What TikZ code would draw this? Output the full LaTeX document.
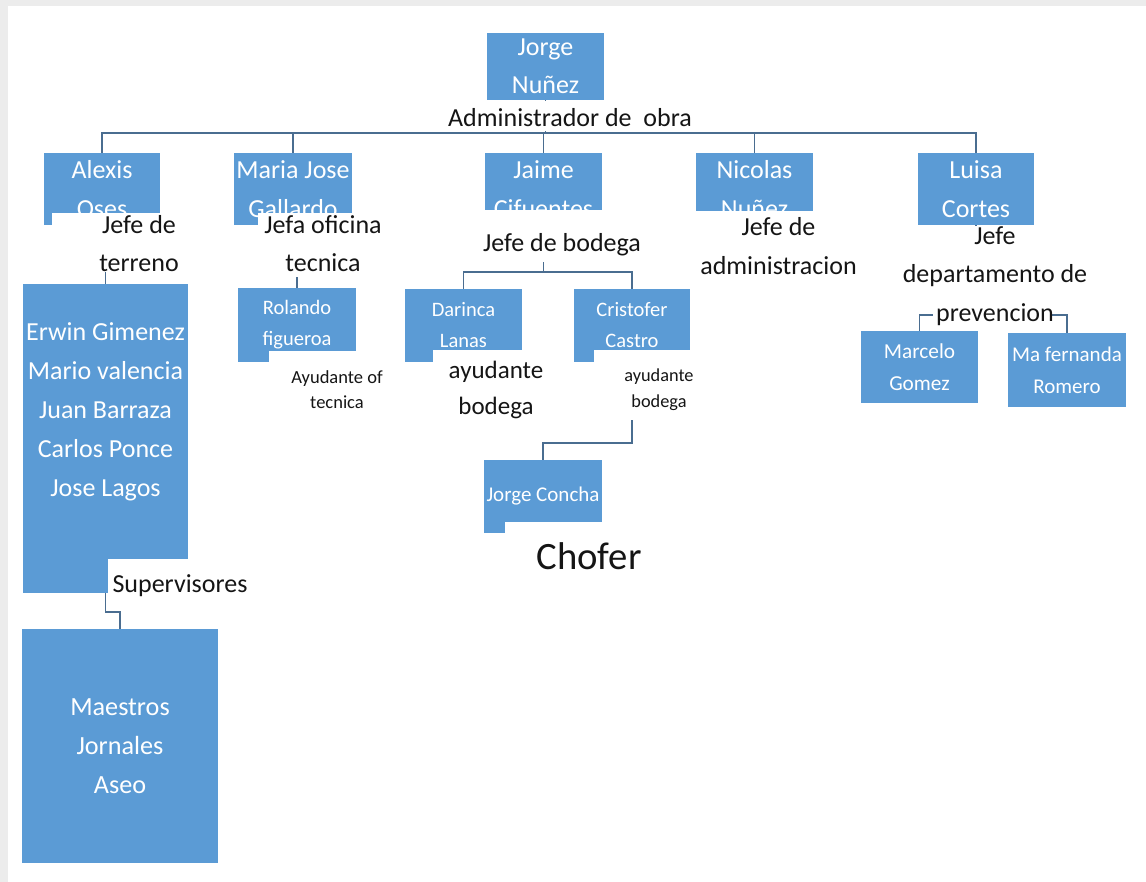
\documentclass[tikz,border=0pt]{standalone}
\usepackage{fontspec}
\setmainfont{Carlito}
\definecolor{boxblue}{HTML}{5B9BD5}
\definecolor{linec}{HTML}{4A6D90}
\definecolor{framegray}{HTML}{ECECEC}
\definecolor{ink}{HTML}{151515}
\pgfdeclarelayer{bg}
\pgfsetlayers{bg,main}
\begin{document}
\begin{tikzpicture}[x=1pt,y=-1pt,
  box/.style={rectangle, fill=boxblue, text=white, inner sep=0pt, align=center},
  conn/.style={draw=linec, line width=1.6pt},
  cover/.style={fill=white},
  lbl/.style={text=ink, inner sep=0pt, align=center},
  fbig/.style={font=\fontsize{26}{38.5}\selectfont},
  fmid/.style={font=\fontsize{20.5}{31}\selectfont},
  fsml/.style={font=\fontsize{18.5}{25.5}\selectfont}
]
\useasboundingbox (0,0) rectangle (1146,882);
% boxes
\node[box,fbig,minimum width=117pt,minimum height=67pt] (jorge) at (545.5,66.5) {Jorge\\Nuñez};
\node[box,fbig,minimum width=116pt,minimum height=72pt] (alexis) at (102,189) {Alexis\\Oses};
\node[box,fbig,minimum width=118pt,minimum height=72pt] (maria) at (293,189) {Maria Jose\\Gallardo};
\node[box,fbig,minimum width=117pt,minimum height=72pt] (jaime) at (543.5,189) {Jaime\\Cifuentes};
\node[box,fbig,minimum width=117pt,minimum height=72pt] (nicolas) at (754.5,189) {Nicolas\\Nuñez};
\node[box,fbig,minimum width=116pt,minimum height=72pt] (luisa) at (976,189) {Luisa\\Cortes};
\node[box,minimum width=165pt,minimum height=309pt] (erwin) at (105.5,438.5) {};
\node[box,fbig,font=\fontsize{26}{39}\selectfont] (erwintext) at (105.5,411.5) {Erwin Gimenez\\Mario valencia\\Juan Barraza\\Carlos Ponce\\Jose Lagos};
\node[box,fbig,font=\fontsize{26.2}{39}\selectfont,minimum width=196pt,minimum height=234pt] (maestros) at (120,746) {Maestros\\Jornales\\Aseo};
\node[box,fmid,minimum width=118pt,minimum height=74pt] (rolando) at (297,325) {Rolando\\figueroa};
\node[box,fmid,minimum width=117pt,minimum height=73pt] (darinca) at (463.5,325.5) {Darinca\\Lanas};
\node[box,fmid,minimum width=116pt,minimum height=73pt] (cristofer) at (632,325.5) {Cristofer\\Castro};
\node[box,fmid,font=\fontsize{21.3}{32}\selectfont,minimum width=117pt,minimum height=72pt] (marcelo) at (919.5,367) {Marcelo\\Gomez};
\node[box,fmid,font=\fontsize{21}{32}\selectfont,minimum width=118pt,minimum height=74pt] (mafer) at (1067,370) {Ma fernanda\\Romero};
\node[box,fmid,font=\fontsize{21}{32}\selectfont,minimum width=118pt,minimum height=73pt] (concha) at (543,496.5) {Jorge Concha};
% background frame and connectors
\begin{pgfonlayer}{bg}
  \fill[framegray] (0,0) rectangle (1146,882);
  \fill[white] (8,6) rectangle (1146,882);
  \foreach \n in {alexis,maria,jaime,nicolas,luisa}
    \draw[conn] (jorge.south) -- ++(0,33) -| (\n.north);
  \draw[conn] (alexis.south -| erwin.north) -- (erwin.north);
  \draw[conn] (erwin.south) -- ++(0,19) -| (maestros.north);
  \draw[conn] (maria.south -| rolando.north) -- (rolando.north);
  \foreach \n in {darinca,cristofer}
    \draw[conn] (jaime.south) -- ++(0,47) -| (\n.north);
  \draw[conn] (cristofer.south) -- ++(0,81) -| (concha.north);
  \foreach \n in {marcelo,mafer}
    \draw[conn] (luisa.south) -- ++(0,90) -| (\n.north);
\end{pgfonlayer}
% white label covers
\fill[cover] (440,101) rectangle (700,131);
\fill[cover] (52,213) rectangle (226,272);
\fill[cover] (258,213) rectangle (390,277);
\fill[cover] (470,210) rectangle (654,262);
\fill[cover] (690,211) rectangle (865,285);
\fill[cover] (895,226) rectangle (1092,302);
\fill[cover] (933,302) rectangle (1050,326);
\fill[cover] (108,559) rectangle (250,605);
\fill[cover] (269,351) rectangle (400,415);
\fill[cover] (433,350) rectangle (560,425);
\fill[cover] (594,350) rectangle (700,420);
\fill[cover] (505,522) rectangle (660,580);
% labels
\node[lbl,fbig] (admin) at (570,118) {Administrador de\ \ obra};
\node[lbl,fbig] (terreno) at (139,243.5) {Jefe de\\terreno};
\node[lbl,fbig] (oficina) at (323,243.5) {Jefa oficina\\tecnica};
\node[lbl,fbig] (bodega) at (562,245) {Jefe de bodega};
\node[lbl,fbig] (adminis) at (778.5,246) {Jefe de\\administracion};
\node[lbl,fbig] (prev) at (995,276) {Jefe\\departamento de\\prevencion};
\node[lbl,fbig] (superv) at (180,586) {Supervisores};
\node[lbl,fsml] (ayof) at (337,389.5) {Ayudante of\\tecnica};
\node[lbl,font=\fontsize{25}{36}\selectfont] (ayb1) at (496,390) {ayudante\\bodega};
\node[lbl,font=\fontsize{18.3}{26}\selectfont] (ayb2) at (659,390) {ayudante\\bodega};
\node[lbl,font=\fontsize{38.7}{46}\selectfont] (chofer) at (589,556) {Chofer};
\end{tikzpicture}
\end{document}
